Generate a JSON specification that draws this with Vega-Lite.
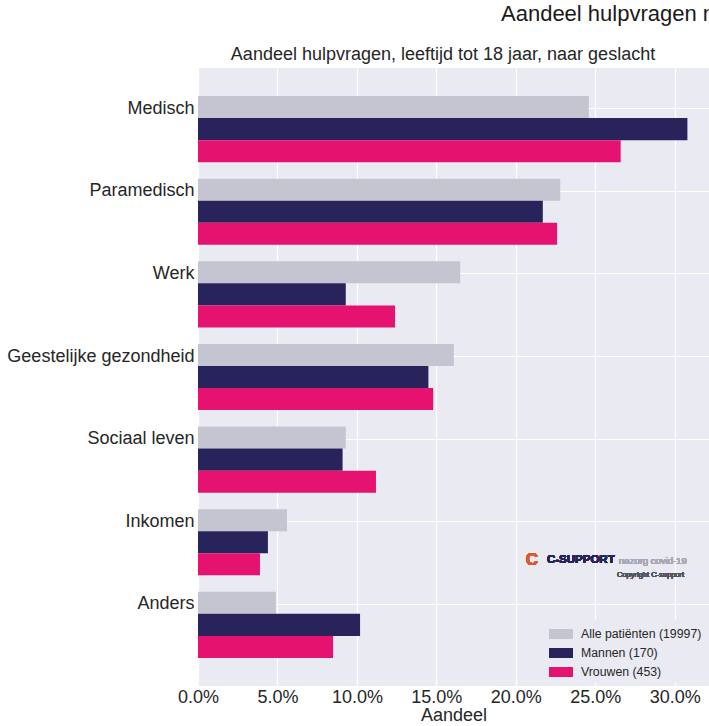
{
  "$schema": "https://vega.github.io/schema/vega-lite/v6.json",
  "width": 511,
  "height": 618,
  "autosize": {"type": "none"},
  "padding": {"left": 198, "top": 68, "right": 0, "bottom": 40},
  "background": "white",
  "title": {"text": "Aandeel hulpvragen naar leeftijd en geslacht", "anchor": "start", "frame": "group", "dx": 303, "offset": 19, "fontSize": 22, "font": "Liberation Sans", "fontWeight": "normal", "color": "#1a1a1a"},
  "config": {"view": {"fill": "#EAEAF2", "stroke": null}, "font": "Liberation Sans"},
  "data": {"values": [
    {"categorie": "Medisch", "groep": "Alle patiënten (19997)", "aandeel": 0.246},
    {"categorie": "Medisch", "groep": "Mannen (170)", "aandeel": 0.308},
    {"categorie": "Medisch", "groep": "Vrouwen (453)", "aandeel": 0.266},
    {"categorie": "Paramedisch", "groep": "Alle patiënten (19997)", "aandeel": 0.228},
    {"categorie": "Paramedisch", "groep": "Mannen (170)", "aandeel": 0.217},
    {"categorie": "Paramedisch", "groep": "Vrouwen (453)", "aandeel": 0.226},
    {"categorie": "Werk", "groep": "Alle patiënten (19997)", "aandeel": 0.165},
    {"categorie": "Werk", "groep": "Mannen (170)", "aandeel": 0.093},
    {"categorie": "Werk", "groep": "Vrouwen (453)", "aandeel": 0.124},
    {"categorie": "Geestelijke gezondheid", "groep": "Alle patiënten (19997)", "aandeel": 0.161},
    {"categorie": "Geestelijke gezondheid", "groep": "Mannen (170)", "aandeel": 0.145},
    {"categorie": "Geestelijke gezondheid", "groep": "Vrouwen (453)", "aandeel": 0.148},
    {"categorie": "Sociaal leven", "groep": "Alle patiënten (19997)", "aandeel": 0.093},
    {"categorie": "Sociaal leven", "groep": "Mannen (170)", "aandeel": 0.091},
    {"categorie": "Sociaal leven", "groep": "Vrouwen (453)", "aandeel": 0.112},
    {"categorie": "Inkomen", "groep": "Alle patiënten (19997)", "aandeel": 0.056},
    {"categorie": "Inkomen", "groep": "Mannen (170)", "aandeel": 0.044},
    {"categorie": "Inkomen", "groep": "Vrouwen (453)", "aandeel": 0.039},
    {"categorie": "Anders", "groep": "Alle patiënten (19997)", "aandeel": 0.049},
    {"categorie": "Anders", "groep": "Mannen (170)", "aandeel": 0.102},
    {"categorie": "Anders", "groep": "Vrouwen (453)", "aandeel": 0.085}
  ]},
  "resolve": {"axis": {"x": "independent"}},
  "layer": [
    {
      "mark": {"type": "bar"},
      "encoding": {
        "y": {"field": "categorie", "type": "nominal", "sort": null,
              "scale": {"paddingInner": 0.2, "paddingOuter": 0.34},
              "axis": {"title": null, "ticks": false, "domain": false, "grid": true, "gridColor": "white", "gridWidth": 1.2, "tickBand": "center", "tickOffset": -21, "labelFontSize": 18, "labelColor": "#262626", "labelPadding": 4, "labelLimit": 260}},
        "yOffset": {"field": "groep", "type": "nominal", "sort": ["Alle patiënten (19997)", "Mannen (170)", "Vrouwen (453)"], "scale": {"paddingInner": 0, "paddingOuter": 0}},
        "x": {"field": "aandeel", "type": "quantitative",
              "scale": {"domain": [0, 0.3216], "nice": false},
              "axis": {"format": ".1%", "values": [0, 0.05, 0.1, 0.15, 0.2, 0.25, 0.3], "ticks": false, "domain": false, "gridColor": "white", "gridWidth": 1.2, "labelFontSize": 18, "labelColor": "#262626", "labelPadding": 2, "labelFlush": false, "title": "Aandeel", "titleFontSize": 18, "titleFontWeight": "normal", "titleColor": "#262626", "titlePadding": 0}},
        "color": {"field": "groep", "type": "nominal",
                  "scale": {"domain": ["Alle patiënten (19997)", "Mannen (170)", "Vrouwen (453)"], "range": ["#C5C5D2", "#29235C", "#E5126F"]},
                  "legend": {"title": null, "orient": "bottom-right", "offset": 3, "symbolType": "M-1.2,-0.5H1.2V0.5H-1.2Z", "symbolSize": 400, "symbolStrokeWidth": 0, "labelFontSize": 12.3, "labelColor": "#262626", "rowPadding": 2, "fillColor": "#EAEAF2", "padding": 4, "labelOffset": 10}}
      }
    },
    {
      "mark": {"type": "bar", "opacity": 0},
      "encoding": {
        "y": {"field": "categorie", "type": "nominal", "sort": null},
        "yOffset": {"field": "groep", "type": "nominal", "sort": ["Alle patiënten (19997)", "Mannen (170)", "Vrouwen (453)"]},
        "x": {"field": "aandeel", "type": "quantitative",
              "axis": {"orient": "top", "labels": false, "ticks": false, "domain": false, "grid": false, "title": "Aandeel hulpvragen, leeftijd tot 18 jaar, naar geslacht", "titleFontSize": 18, "titleFontWeight": "normal", "titleColor": "#262626", "titlePadding": 5, "titleX": 244.5}}
      }
    },
    {
      "mark": {"type": "text", "text": "C", "fontSize": 17, "fontWeight": "bold", "color": "#DD5A2E", "align": "left", "dy": 18},
      "encoding": {"x": {"datum": 0.2062, "type": "quantitative", "axis": null}, "y": {"datum": "Inkomen", "type": "nominal"}}
    },
    {
      "mark": {"type": "text", "text": "C-SUPPORT", "fontSize": 11.5, "fontWeight": "bold", "color": "#29235C", "align": "left", "dy": 18},
      "encoding": {"x": {"datum": 0.2196, "type": "quantitative", "axis": null}, "y": {"datum": "Inkomen", "type": "nominal"}}
    },
    {
      "mark": {"type": "text", "text": "nazorg covid-19", "fontSize": 9.5, "color": "#A8A8B8", "align": "left", "dy": 19},
      "encoding": {"x": {"datum": 0.2650, "type": "quantitative", "axis": null}, "y": {"datum": "Inkomen", "type": "nominal"}}
    },
    {
      "mark": {"type": "text", "text": "Copyright C-support", "fontSize": 7.5, "color": "#555566", "align": "left", "dy": 33},
      "encoding": {"x": {"datum": 0.2637, "type": "quantitative", "axis": null}, "y": {"datum": "Inkomen", "type": "nominal"}}
    }
  ]
}
